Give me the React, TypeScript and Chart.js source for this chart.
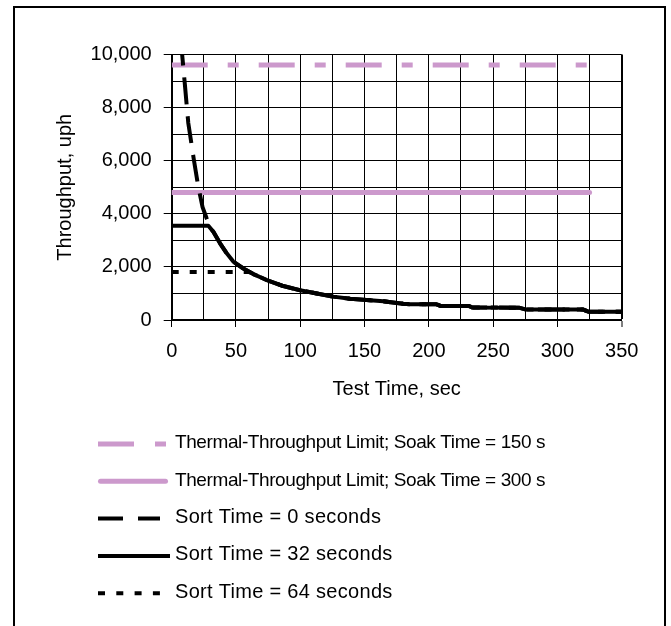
import { useEffect, useRef } from "react";
import { Chart, registerables } from "chart.js";

Chart.register(...registerables);

const FONT = '"Liberation Sans", Arial, sans-serif';

// ---- data ----
const soak150Time = [0, 325];
const soak150Throughput = [9600, 9600];

const soak300Time = [0, 325];
const soak300Throughput = [4800, 4800];

const sort0Time = [7, 8.2, 10.3, 12.9, 15, 17.3, 20.5, 24, 27, 30, 32.4, 37.6, 42.8, 47.9, 55.7, 63.5, 73.9, 86.8, 99.8, 112.8, 125.7, 138.7, 151.7, 164.6, 172, 180, 185, 206, 209, 231, 234, 270, 275, 320, 324, 350];
const sort0Throughput = [10600, 9960, 8840, 7420, 6750, 6015, 5070, 4250, 3850, 3480, 3320, 2890, 2510, 2200, 1940, 1730, 1505, 1280, 1120, 1000, 880, 800, 750, 710, 660, 610, 595, 590, 532, 528, 470, 465, 398, 393, 315, 313];

const sort32Time = [0, 28.5, 32.4, 37.6, 42.8, 47.9, 55.7, 63.5, 73.9, 86.8, 99.8, 112.8, 125.7, 138.7, 151.7, 164.6, 172, 180, 185, 206, 209, 231, 234, 270, 275, 320, 324, 350];
const sort32Throughput = [3550, 3550, 3320, 2890, 2510, 2200, 1940, 1730, 1505, 1280, 1120, 1000, 880, 800, 750, 710, 660, 610, 595, 590, 532, 528, 470, 465, 398, 393, 315, 313];

const sort64Time = [0, 60, 63.5, 73.9, 86.8, 99.8, 112.8, 125.7, 138.7, 151.7, 164.6, 172, 180, 185, 206, 209, 231, 234, 270, 275, 320, 324, 350];
const sort64Throughput = [1810, 1810, 1730, 1505, 1280, 1120, 1000, 880, 800, 750, 710, 660, 610, 595, 590, 532, 528, 470, 465, 398, 393, 315, 313];

const seriesLabels = [
  "Thermal-Throughput Limit; Soak Time = 150 s",
  "Thermal-Throughput Limit; Soak Time = 300 s",
  "Sort Time = 0 seconds",
  "Sort Time = 32 seconds",
  "Sort Time = 64 seconds",
];

const xTitle = "Test Time, sec";
const yTitle = "Throughput, uph";

const PINK = "#CC99CC";
const BLACK = "#000000";

const toPoints = (xs: number[], ys: number[]) => xs.map((x, i) => ({ x, y: ys[i] }));

// legend sample styles
const legendStyles = [
  { color: PINK, width: 5, dash: [36, 21, 11, 21], cap: "butt" as CanvasLineCap, len: 68, size: 19, spacing: -0.4 },
  { color: PINK, width: 5, dash: [] as number[], cap: "round" as CanvasLineCap, len: 70, size: 19, spacing: -0.4 },
  { color: BLACK, width: 4, dash: [25, 15], cap: "butt" as CanvasLineCap, len: 62, size: 20, spacing: 0.3 },
  { color: BLACK, width: 4, dash: [] as number[], cap: "butt" as CanvasLineCap, len: 72, size: 20, spacing: 0.3 },
  { color: BLACK, width: 4, dash: [7, 11.3], cap: "butt" as CanvasLineCap, len: 62, size: 20, spacing: 0.3 },
];

const framePlugin = {
  id: "frame",
  beforeDraw(chart: any) {
    const ctx = chart.ctx;
    ctx.save();
    ctx.fillStyle = "#ffffff";
    ctx.fillRect(0, 0, chart.width, chart.height);
    ctx.strokeStyle = "#000";
    ctx.lineWidth = 2;
    ctx.strokeRect(14, 7, 651, 640);
    ctx.restore();
  },
};

const legendPlugin = {
  id: "customLegend",
  afterDraw(chart: any) {
    const ctx = chart.ctx;
    const x0 = 98;
    const textX = 175;
    const y0 = 444;
    const step = 37.3;
    ctx.save();
    seriesLabels.forEach((label, i) => {
      const s = legendStyles[i];
      const y = y0 + i * step;
      ctx.beginPath();
      ctx.strokeStyle = s.color;
      ctx.lineWidth = s.width;
      ctx.lineCap = s.cap;
      ctx.setLineDash(s.dash);
      const off = s.cap === "round" ? s.width / 2 : 0;
      ctx.moveTo(x0 + off, y);
      ctx.lineTo(x0 + s.len - off, y);
      ctx.stroke();
      ctx.setLineDash([]);
      ctx.fillStyle = "#000";
      ctx.font = `${s.size}px ${FONT}`;
      try {
        (ctx as any).letterSpacing = `${s.spacing}px`;
      } catch (e) {
        /* ignore */
      }
      ctx.textAlign = "left";
      ctx.textBaseline = "middle";
      ctx.fillText(label, textX, y - 1);
      try {
        (ctx as any).letterSpacing = "0px";
      } catch (e) {
        /* ignore */
      }
    });
    ctx.restore();
  },
};

export default function App() {
  const ref = useRef<HTMLCanvasElement | null>(null);

  useEffect(() => {
    if (!ref.current) return;
    const chart = new Chart(ref.current, {
      type: "line",
      data: {
        datasets: [
          {
            label: seriesLabels[0],
            data: toPoints(soak150Time, soak150Throughput),
            borderColor: PINK,
            borderWidth: 5,
            borderDash: [36, 20, 11, 20],
            pointRadius: 0,
            order: 4,
            clip: 0,
          },
          {
            label: seriesLabels[1],
            data: toPoints(soak300Time, soak300Throughput),
            borderColor: PINK,
            borderWidth: 5,
            borderCapStyle: "round",
            pointRadius: 0,
            order: 3,
            clip: 0,
          },
          {
            label: seriesLabels[2],
            data: toPoints(sort0Time, sort0Throughput),
            borderColor: BLACK,
            borderWidth: 4,
            borderDash: [27, 12],
            borderJoinStyle: "round",
            pointRadius: 0,
            order: 1,
            clip: 0,
          },
          {
            label: seriesLabels[3],
            data: toPoints(sort32Time, sort32Throughput),
            borderColor: BLACK,
            borderWidth: 4,
            borderJoinStyle: "round",
            pointRadius: 0,
            order: 0,
            clip: 0,
          },
          {
            label: seriesLabels[4],
            data: toPoints(sort64Time, sort64Throughput),
            borderColor: BLACK,
            borderWidth: 4,
            borderDash: [7, 11],
            pointRadius: 0,
            order: 2,
            clip: 0,
          },
        ],
      },
      options: {
        responsive: false,
        animation: false,
        devicePixelRatio: 1,
        layout: { padding: { left: 53, top: 54.5, right: 49.3, bottom: 225 } },
        elements: { line: { tension: 0, fill: false } },
        plugins: {
          legend: { display: false },
          tooltip: { enabled: false },
        },
        scales: {
          x: {
            type: "linear",
            min: 0,
            max: 350,
            afterFit: (s: any) => {
              s.height = 81;
            },
            ticks: {
              stepSize: 25,
              autoSkip: false,
              maxRotation: 0,
              minRotation: 0,
              padding: 12,
              color: "#000",
              font: { family: FONT, size: 20 },
              callback: (v: any) => (Number(v) % 50 === 0 ? String(v) : ""),
            },
            grid: {
              color: "#000",
              lineWidth: (c: any) => (c.tick && c.tick.value === 350 ? 2 : 1),
              tickLength: 7,
              tickWidth: 1,
              tickColor: (c: any) => (c.tick && c.tick.value % 50 === 0 ? "#000" : "rgba(0,0,0,0)"),
            },
            border: { color: "#000", width: 2 },
            title: {
              display: true,
              text: xTitle,
              color: "#000",
              font: { family: FONT, size: 20 },
              padding: { top: 0, bottom: 0 },
            },
          },
          y: {
            type: "linear",
            min: 0,
            max: 10000,
            afterFit: (s: any) => {
              s.width = 118.7;
            },
            ticks: {
              stepSize: 1000,
              autoSkip: false,
              padding: 12,
              color: "#000",
              font: { family: FONT, size: 20 },
              callback: (v: any) => (Number(v) % 2000 === 0 ? Number(v).toLocaleString("en-US") : ""),
            },
            grid: {
              color: "#000",
              lineWidth: 1,
              tickLength: 8,
              tickWidth: 1,
              tickColor: (c: any) => (c.tick && c.tick.value % 2000 === 0 ? "#000" : "rgba(0,0,0,0)"),
            },
            border: { color: "#000", width: 2 },
            title: {
              display: true,
              text: yTitle,
              color: "#000",
              font: { family: FONT, size: 20 },
              padding: { top: 0, bottom: 0 },
            },
          },
        },
      },
      plugins: [framePlugin, legendPlugin],
    } as any);
    return () => chart.destroy();
  }, []);

  return (
    <div style={{ position: "absolute", left: 0, top: 0, width: 671, height: 626, background: "#fff" }}>
      <canvas ref={ref} width={671} height={626} style={{ display: "block", width: 671, height: 626 }} />
    </div>
  );
}
